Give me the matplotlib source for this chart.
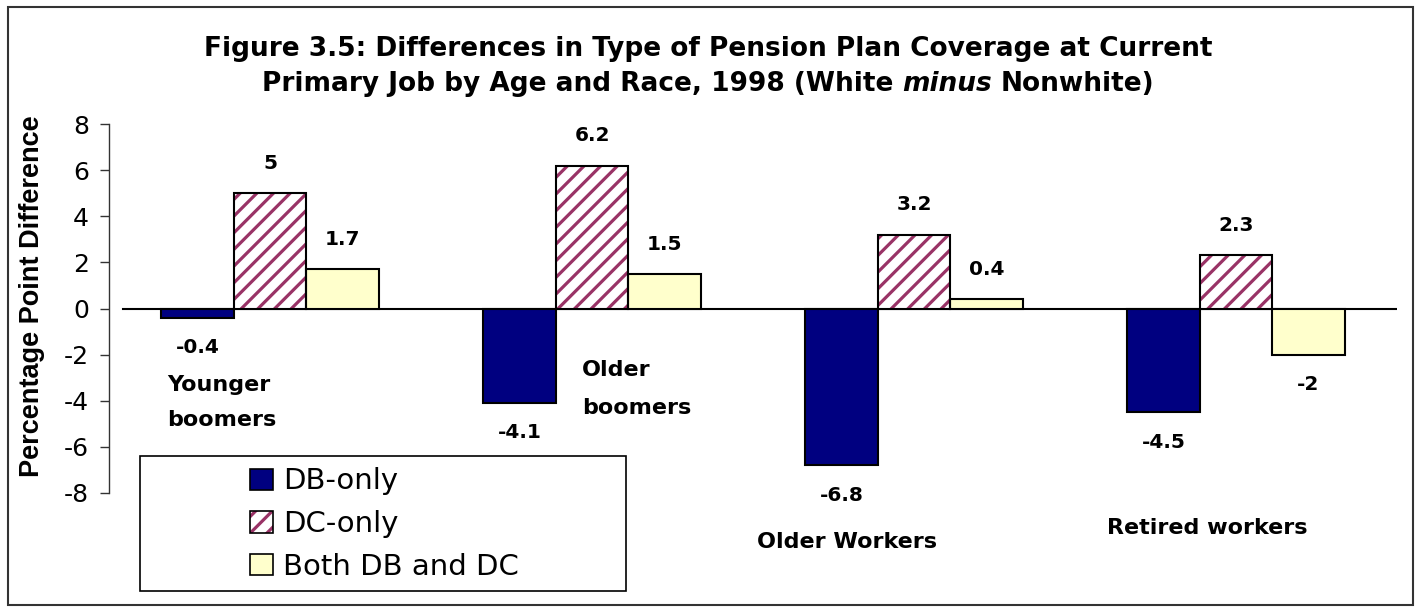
import numpy as np
import matplotlib
matplotlib.use("Agg")
import matplotlib.pyplot as plt
from matplotlib.patches import Patch, Rectangle

plt.rcParams["font.family"] = ["DejaVu Sans"]
plt.rcParams["hatch.linewidth"] = 2.3

# Data: White minus Nonwhite, percentage points
groups = ["Younger\nboomers", "Older\nboomers", "Older Workers", "Retired workers"]
series_names = ["DB-only", "DC-only", "Both DB and DC"]
db_only = [-0.4, -4.1, -6.8, -4.5]
dc_only = [5.0, 6.2, 3.2, 2.3]
both = [1.7, 1.5, 0.4, -2.0]
y_ticks = [-8, -6, -4, -2, 0, 2, 4, 6, 8]
y_tick_labels = ["-8", "-6", "-4", "-2", "0", "2", "4", "6", "8"]

NAVY = "#000080"
PLUM = "#993366"
CREAM = "#FFFFCC"
ARIAL = ["Liberation Sans", "DejaVu Sans"]

W, H = 1416, 610
fig = plt.figure(figsize=(W / 100, H / 100), dpi=100)
fig.patch.set_facecolor("white")


def fx(px):
    return px / W


def fy(py):
    return (H - py) / H


ax = fig.add_axes([fx(109), fy(493), fx(1397) - fx(109), fy(124) - fy(493)])
ax.set_xlim(-0.5, len(groups) - 0.5)
ax.set_ylim(-8, 8)

x = np.arange(len(groups))
bw = 0.225

ax.axhline(0, xmin=0.011, xmax=1.0, color="black", lw=1.5, zorder=1)

ax.bar(x - bw, db_only, bw, color=NAVY, edgecolor="black", linewidth=1.5, zorder=3)
ax.bar(x, dc_only, bw, color="white", edgecolor=PLUM, hatch="//", linewidth=0, zorder=3)
ax.bar(x, dc_only, bw, fill=False, edgecolor="black", linewidth=1.5, zorder=4)
ax.bar(x + bw, both, bw, color=CREAM, edgecolor="black", linewidth=1.5, zorder=3)

# value labels above/below each bar
for offs, vals in zip((-bw, 0, bw), (db_only, dc_only, both)):
    for xi, v in zip(x, vals):
        ax.annotate(f"{v:g}", (xi + offs, v), xytext=(0, 21.5 if v >= 0 else -21.5),
                    textcoords="offset points", ha="center", va="center",
                    fontsize=14.5, fontweight="bold", zorder=5)

# category labels placed around the bars (left edge, first-line centre, line pitch)
cat_pos = [(-0.32, -3.32, 1.52), (0.969, -2.67, 1.64),
           (1.512, -10.13, 0.0), (2.599, -9.52, 0.0)]
for name, (cx, cy, pitch) in zip(groups, cat_pos):
    for k, line in enumerate(name.split("\n")):
        ax.text(cx, cy - k * pitch, line, ha="left", va="center", fontsize=16,
                fontweight="bold", clip_on=False)

for s in ("top", "right", "bottom"):
    ax.spines[s].set_visible(False)
ax.spines["left"].set_color("#333333")
ax.spines["left"].set_linewidth(1.0)
ax.set_xticks([])
ax.set_yticks(y_ticks)
ax.set_yticklabels(y_tick_labels)
ax.tick_params(axis="y", direction="out", length=6.5, width=1.0, color="#333333",
               labelsize=18, pad=8)

fig.text(fx(32), fy(296), "Percentage Point Difference", rotation=90,
         ha="center", va="center", fontsize=19.5, fontweight="bold", family=ARIAL)

# title, first line
TSIZE = 19
fig.text(0.5, fy(56), "Figure 3.5: Differences in Type of Pension Plan Coverage at Current",
         ha="center", va="baseline", fontsize=TSIZE, fontweight="bold")

# title, second line with an italic word
renderer = fig.canvas.get_renderer()
pieces = [("Primary Job by Age and Race, 1998 (White", "normal"),
          ("minus", "italic"),
          ("Nonwhite)", "normal")]
arts = [fig.text(0, fy(91), t, ha="left", va="baseline", fontsize=TSIZE,
                 fontweight="bold", fontstyle=st) for t, st in pieces]
probe1 = fig.text(0, 0, "x x", fontsize=TSIZE, fontweight="bold")
probe2 = fig.text(0, 0, "xx", fontsize=TSIZE, fontweight="bold")
space_px = probe1.get_window_extent(renderer).width - probe2.get_window_extent(renderer).width
probe1.remove()
probe2.remove()
widths = [a.get_window_extent(renderer).width for a in arts]
total = sum(widths) + space_px * (len(arts) - 1)
start = W / 2 - total / 2
for a, w in zip(arts, widths):
    a.set_x(start / W)
    start += w + space_px

# legend box
fig.add_artist(Rectangle((fx(140), fy(591)), fx(626) - fx(140), fy(456) - fy(591),
                         transform=fig.transFigure, facecolor="white",
                         edgecolor="black", linewidth=1.2, zorder=2))
h_db = Patch(facecolor=NAVY, edgecolor="black", linewidth=1.2)
h_dc_fill = Patch(facecolor="white", edgecolor=PLUM, hatch="//", linewidth=0)
h_dc_edge = Patch(fill=False, edgecolor="black", linewidth=1.2)
h_both = Patch(facecolor=CREAM, edgecolor="black", linewidth=1.2)
leg = fig.legend([h_db, (h_dc_fill, h_dc_edge), h_both], series_names,
                 loc="center left", bbox_to_anchor=(fx(250), fy(524)),
                 frameon=False, fontsize=21, handlelength=0.78, handleheight=0.75,
                 handletextpad=0.35, labelspacing=0.5, borderpad=0, borderaxespad=0)
leg.set_zorder(3)

# outer frame
fig.add_artist(Rectangle((fx(8), fy(605)), fx(1413) - fx(8), fy(7) - fy(605),
                         transform=fig.transFigure, fill=False,
                         edgecolor="#333333", linewidth=1.5, zorder=4))

fig.savefig("out.png", dpi=100)
